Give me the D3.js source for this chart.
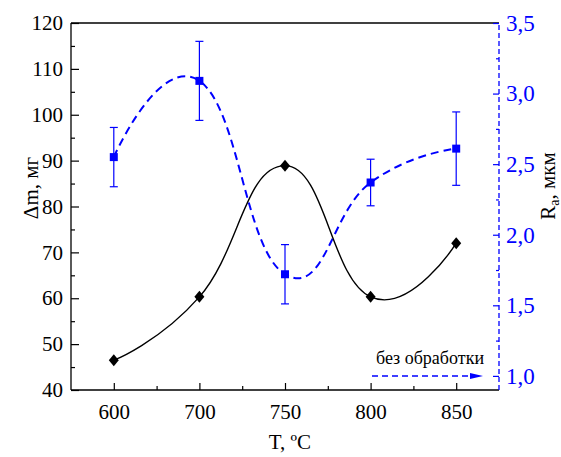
<!DOCTYPE html>
<html><head><meta charset="utf-8">
<script src="https://cdn.jsdelivr.net/npm/d3@7"></script>
<style>
body{margin:0;background:#fff;}
svg{display:block;}
svg text{font-family:"Liberation Serif","Times New Roman",serif !important;}
</style></head>
<body><svg id="c" width="561" height="457"></svg>
<script>
const categories = ["600","700","750","800","850"];
const massGain = [46.5, 60.3, 88.9, 60.3, 72.0];
const roughness = [2.55, 3.09, 1.72, 2.37, 2.61];
const roughnessErr = [0.21, 0.28, 0.21, 0.165, 0.26];
const untreatedRoughness = 1.0;
const leftTicks = [40,50,60,70,80,90,100,110,120];
const rightTicks = [1.0,1.5,2.0,2.5,3.0,3.5];
const legendLabel = "без обработки";

const svg = d3.select("#c");
const L=71, R=499, T=23, B=390;
const blue = "#0000ff";
const x = d3.scalePoint().domain(categories).range([L,R]).padding(0.5);
const yL = d3.scaleLinear().domain([40,120]).range([B,T]);
const yR = d3.scaleLinear().domain([0.9,3.5]).range([B,T]);
const curve = d3.curveCardinal.tension(-0.4);

// frame top
svg.append("line").attr("x1",L).attr("x2",R).attr("y1",T).attr("y2",T).attr("stroke","#000").attr("stroke-width",1.3);

// left axis
const gl = svg.append("g").attr("transform",`translate(${L},0)`)
  .call(d3.axisLeft(yL).tickValues(leftTicks).tickSize(-8).tickPadding(8).tickFormat(d3.format("d")));
const glm = svg.append("g").attr("transform",`translate(${L},0)`)
  .call(d3.axisLeft(yL).tickValues(d3.range(45,120,10)).tickSize(-4).tickFormat(""));
glm.select(".domain").remove();
// bottom axis
const gb = svg.append("g").attr("transform",`translate(0,${B})`)
  .call(d3.axisBottom(x).tickSize(-7).tickPadding(14));
const mids = categories.slice(0,-1).map((c,i)=>(x(c)+x(categories[i+1]))/2);
const gbm = svg.append("g").attr("transform",`translate(0,${B})`)
  .call(d3.axisBottom(d3.scaleIdentity()).tickValues(mids).tickSize(-4).tickFormat(""));
gbm.select(".domain").remove();
// right axis
const fmtR = d => d3.format(".1f")(d).replace(".",",");
const gr = svg.append("g").attr("transform",`translate(${R},0)`)
  .call(d3.axisRight(yR).tickValues(rightTicks).tickSize(-6).tickPadding(7).tickFormat(fmtR));
const grm = svg.append("g").attr("transform",`translate(${R},0)`)
  .call(d3.axisRight(yR).tickValues(d3.range(1.25,3.5,0.5)).tickSize(-3).tickFormat(""));
grm.select(".domain").remove();

[gl,glm,gb,gbm].forEach(g=>{
  g.selectAll(".domain").attr("stroke","#000").attr("stroke-width",1.3);
  g.selectAll(".tick line").attr("stroke","#000").attr("stroke-width",1.2);
  g.selectAll("text").attr("font-size",21).attr("fill","#000");
});
gl.selectAll(".domain").attr("d",`M0,${B}V${T}`);
gb.selectAll(".domain").attr("d",`M${L},0H${R}`);
[gr,grm].forEach(g=>{
  g.selectAll(".domain").attr("stroke",blue).attr("stroke-width",1.3).attr("stroke-dasharray","5,3");
  g.selectAll(".tick line").attr("stroke",blue).attr("stroke-width",1.2);
  g.selectAll("text").attr("font-size",23).attr("fill",blue);
});
gr.selectAll(".domain").attr("d",`M0,${B}V${T}`);

// axis titles
svg.append("text").attr("x",290).attr("y",449).attr("text-anchor","middle").attr("font-size",21).text("T, ºC");
svg.append("text").attr("transform","translate(38,188) rotate(-90)").attr("text-anchor","middle").attr("font-size",21).text("Δm, мг");
const rt = svg.append("text").attr("transform","translate(555,186) rotate(-90)").attr("text-anchor","middle").attr("font-size",21);
rt.append("tspan").text("R");
rt.append("tspan").attr("font-size",14).attr("dy",4).text("a");
rt.append("tspan").attr("dy",-4).text(", мкм");

// roughness curve
const ptsR = categories.map((c,i)=>[x(c), yR(roughness[i])]);
svg.append("path").attr("d", d3.line().curve(curve)(ptsR))
  .attr("fill","none").attr("stroke",blue).attr("stroke-width",2).attr("stroke-dasharray","8,5");
// error bars
categories.forEach((c,i)=>{
  const cx=x(c), y1=yR(roughness[i]+roughnessErr[i]), y2=yR(roughness[i]-roughnessErr[i]);
  const g=svg.append("g").attr("stroke",blue).attr("stroke-width",1.2);
  g.append("line").attr("x1",cx).attr("x2",cx).attr("y1",y1).attr("y2",y2);
  g.append("line").attr("x1",cx-4).attr("x2",cx+4).attr("y1",y1).attr("y2",y1);
  g.append("line").attr("x1",cx-4).attr("x2",cx+4).attr("y1",y2).attr("y2",y2);
});
svg.append("g").selectAll("rect").data(ptsR).join("rect")
  .attr("x",d=>d[0]-4).attr("y",d=>d[1]-4).attr("width",8).attr("height",8).attr("fill",blue);

// mass gain curve
const ptsM = categories.map((c,i)=>[x(c), yL(massGain[i])]);
svg.append("path").attr("d", d3.line().curve(curve)(ptsM))
  .attr("fill","none").attr("stroke","#000").attr("stroke-width",1.4);
svg.append("g").selectAll("path").data(ptsM).join("path")
  .attr("d","M0,-6L5,0L0,6L-5,0Z")
  .attr("transform",d=>`translate(${d[0]},${d[1]})`).attr("fill","#000");

// legend arrow
const ay = yR(untreatedRoughness);
svg.append("line").attr("x1",372).attr("x2",474).attr("y1",ay).attr("y2",ay)
  .attr("stroke",blue).attr("stroke-width",1.5).attr("stroke-dasharray","6,4");
svg.append("path").attr("d",`M470,${ay-3}L483,${ay}L470,${ay+3}Z`).attr("fill",blue);
svg.append("text").attr("x",430).attr("y",364).attr("text-anchor","middle").attr("font-size",18).text(legendLabel);
</script></body></html>
